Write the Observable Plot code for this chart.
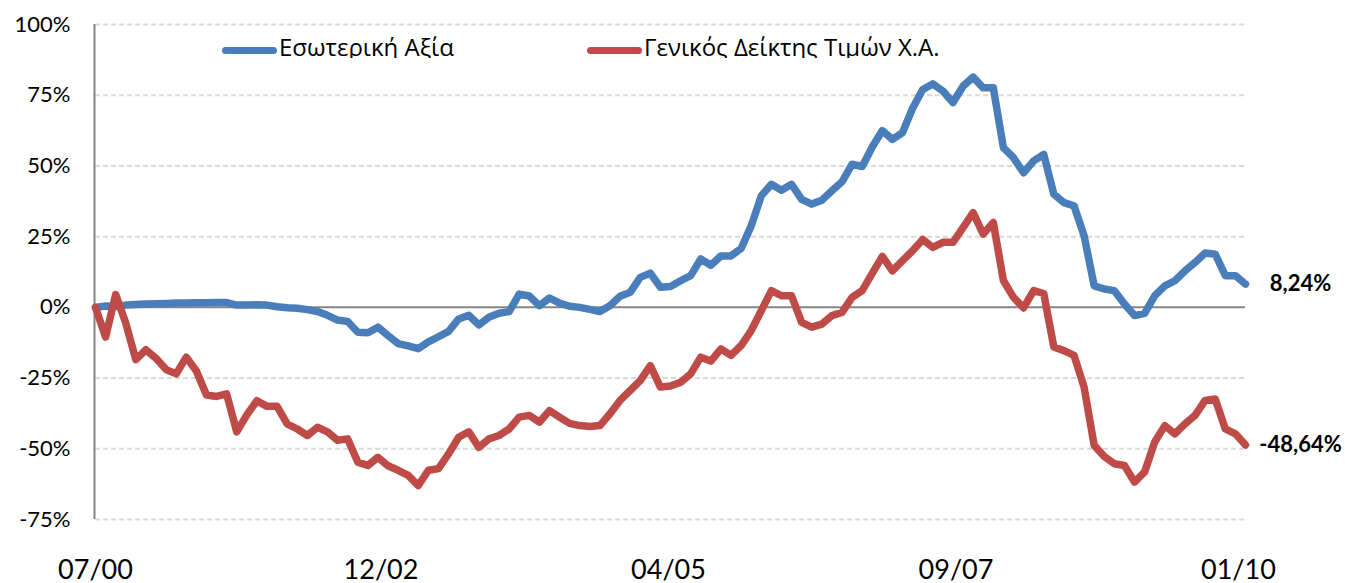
<!DOCTYPE html>
<html>
<head>
<meta charset="utf-8">
<script src="https://cdn.jsdelivr.net/npm/d3@7"></script>
<script src="https://cdn.jsdelivr.net/npm/@observablehq/plot@0.6"></script>
<style>
  body { margin: 0; background: #fff; }
  #wrap { position: relative; width: 1345px; height: 583px; overflow: hidden; }
  #legend { position: absolute; left: 0; top: 28px; width: 1345px; height: 30px; overflow: hidden; font-family: "Open Sans", sans-serif; font-size: 24px; color: #000; }
  .sw { position: absolute; height: 7px; border-radius: 3.5px; top: 18.5px; }
  .lt { position: absolute; top: 4px; white-space: nowrap; line-height: 30px; }
</style>
</head>
<body>
<div id="wrap">
  <div id="chart"></div>
  <div id="legend"></div>
</div>
<script>
// Monthly series, 07/2000 .. 01/2010 (115 months), cumulative % change
const seriesNames = ["Εσωτερική Αξία", "Γενικός Δείκτης Τιμών Χ.Α."];
const seriesColors = ["#4a7ebb", "#be4b48"];

const intrinsicValue = [
  0, 0.5, 0.3, 0.8, 1.0, 1.2, 1.3, 1.4, 1.5, 1.5,
  1.6, 1.6, 1.7, 1.7, 0.8, 0.8, 0.9, 0.8, 0.2, -0.1,
  -0.3, -0.8, -1.5, -2.8, -4.5, -5, -8.8, -9, -7, -10,
  -12.8, -13.6, -14.6, -12.2, -10.4, -8.5, -4.1, -2.8, -6.2, -3.5,
  -2.1, -1.5, 4.7, 4, 0.6, 3.3, 1.5, 0.4, 0, -0.7,
  -1.5, 0.6, 3.9, 5.3, 10.6, 12.1, 7.1, 7.4, 9.4, 11.2,
  17.1, 14.9, 18.2, 18.2, 20.8, 28.8, 39.4, 43.5, 41.4, 43.5,
  38.2, 36.5, 37.9, 41.2, 44.4, 50.6, 49.8, 56.7, 62.5, 59.4,
  61.8, 70.4, 77, 79, 76.5, 72.4, 78.2, 81.4, 77.6, 77.6,
  56.5, 52.9, 47.6, 51.8, 54.1, 40, 37, 35.9, 25.3, 7.6,
  6.5, 5.9, 1.2, -2.9, -2.1, 4.1, 7.6, 9.4, 12.9, 15.9,
  19.2, 18.8, 11.2, 11.2, 8.24
];

const generalIndex = [
  0, -10.5, 4.5, -5.5, -18.5, -15, -18, -22, -23.5, -17.6,
  -22.5, -31, -31.5, -30.6, -44, -38, -33, -35, -35, -41.2,
  -43, -45.3, -42.4, -44, -47, -46.5, -54.7, -55.9, -53, -56,
  -57.6, -59.4, -63, -57.6, -57, -51.8, -45.9, -44, -49.5, -46.5,
  -45.3, -43, -38.8, -38.2, -40.6, -36.5, -38.8, -41, -41.8, -42.1,
  -41.8, -37.6, -32.9, -29.4, -25.9, -20.6, -28.2, -27.8, -26.5, -23.5,
  -17.6, -19, -14.7, -17, -13.5, -8.2, -1.2, 5.9, 4.1, 4.1,
  -5.3, -7, -5.9, -2.9, -1.8, 3.5, 5.9, 12, 18, 12.9,
  16.5, 20, 24, 21.2, 23, 23, 28.2, 33.5, 25.9, 30,
  9.5, 3.5, -0.2, 5.9, 4.9, -14, -15.3, -17, -28.2, -48.8,
  -52.7, -55.3, -55.9, -61.8, -58.2, -47.6, -41.8, -44.7, -41.2, -38.2,
  -32.9, -32.4, -43, -44.7, -48.64
];

const xTickIndex = [0, 28.3, 56.8, 85.3, 113.3];
const xTickLabels = ["07/00", "12/02", "04/05", "09/07", "01/10"];
const yTicks = [100, 75, 50, 25, 0, -25, -50, -75];
const endLabels = ["8,24%", "-48,64%"];

const rows = [];
[intrinsicValue, generalIndex].forEach((arr, s) => {
  arr.forEach((v, i) => rows.push({ i, v, s: seriesNames[s] }));
});
const lastPoints = [intrinsicValue, generalIndex].map((arr, s) => ({
  i: arr.length - 1, v: arr[arr.length - 1], label: endLabels[s]
}));

const chart = Plot.plot({
  width: 1345,
  height: 583,
  marginLeft: 95,
  marginRight: 100,
  marginTop: 24,
  marginBottom: 64,
  x: { domain: [0, 114], axis: null },
  y: { domain: [-75, 100], axis: null },
  style: { fontFamily: "Lato, 'Open Sans', sans-serif", background: "#fff", color: "#000" },
  marks: [
    Plot.ruleY(yTicks.filter(d => d !== 0), { stroke: "#d9d9d9", strokeWidth: 2, strokeDasharray: "5,3" }),
    Plot.ruleY([0], { stroke: "#868686", strokeWidth: 2 }),
    Plot.ruleX([0], { y1: -75, y2: 100, stroke: "#868686", strokeWidth: 2, dx: -1 }),
    Plot.axisY({ ticks: yTicks, tickSize: 0, tickPadding: 25, tickFormat: d => d + "%", fontSize: 22, label: null }),
    Plot.axisX({ ticks: xTickIndex, tickSize: 0, tickPadding: 40, tickFormat: d => xTickLabels[xTickIndex.indexOf(d)], fontSize: 27, label: null }),
    Plot.line(rows.filter(r => r.s === seriesNames[0]), { x: "i", y: "v", stroke: seriesColors[0], strokeWidth: 7.5, strokeLinejoin: "round", strokeLinecap: "round" }),
    Plot.line(rows.filter(r => r.s === seriesNames[1]), { x: "i", y: "v", stroke: seriesColors[1], strokeWidth: 7.5, strokeLinejoin: "round", strokeLinecap: "round" }),
    Plot.text(lastPoints, { x: "i", y: "v", text: "label", dx: 55, textAnchor: "middle", fontSize: 22, fontWeight: "bold", fill: "#000" })
  ]
});
document.getElementById("chart").appendChild(chart);

// Legend (inside plot area, top)
const legend = document.getElementById("legend");
const legendPos = [{ sw: 222, tx: 279 }, { sw: 587, tx: 644 }];
seriesNames.forEach((name, k) => {
  const sw = document.createElement("div");
  sw.className = "sw";
  sw.style.left = legendPos[k].sw + "px";
  sw.style.width = "55px";
  sw.style.background = seriesColors[k];
  legend.appendChild(sw);
  const t = document.createElement("div");
  t.className = "lt";
  t.style.left = legendPos[k].tx + "px";
  t.textContent = name;
  legend.appendChild(t);
});
</script>
</body>
</html>
